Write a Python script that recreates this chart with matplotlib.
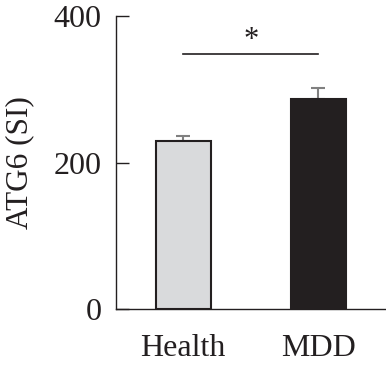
import matplotlib.pyplot as plt

# Values
groups = ["Health", "MDD"]
means = [229, 287]
errors = [7, 14]
colors = ["#d9dadc", "#231f20"]
yticks = [0, 200, 400]

plt.rcParams['font.family'] = ['Liberation Serif', 'DejaVu Serif']

fig = plt.figure(figsize=(3.86, 3.68), dpi=100)
ax = fig.add_axes([0.2997, 0.1595, 0.7003, 0.7975])

x = range(len(groups))
ax.bar(x, means, width=0.41, color=colors, edgecolor="#231f20", linewidth=1.5, zorder=2)
ax.errorbar(x, means, yerr=[[0, 0], errors], fmt="none", ecolor="#808080",
            elinewidth=1.5, capsize=5, capthick=1.5, zorder=1)

# significance bar
ax.plot([0, 1], [348, 348], color="#231f20", linewidth=1.2)
ax.text(0.5, 366, "*", ha="center", va="center", fontsize=22, color="#231f20")

ax.set_xlim(-0.5, 1.5)
ax.set_ylim(0, 400)
ax.set_yticks(yticks)
ax.set_xticks(list(x))
ax.set_xticklabels(groups)
ax.tick_params(axis="y", direction="in", length=9.5, width=1, color="#231f20",
               labelsize=23, pad=10, labelcolor="#231f20")
ax.tick_params(axis="x", length=0, labelsize=23, pad=18, labelcolor="#231f20")
ax.set_ylabel("ATG6 (SI)", fontsize=22.5, labelpad=14, color="#231f20")

for s in ["top", "right"]:
    ax.spines[s].set_visible(False)
for s in ["left", "bottom"]:
    ax.spines[s].set_color("#231f20")
    ax.spines[s].set_linewidth(1)

fig.savefig("out.png", dpi=100)
